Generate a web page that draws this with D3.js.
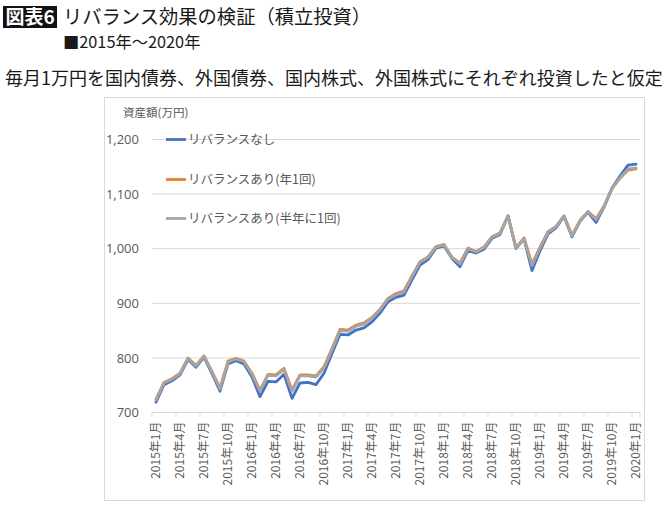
<!DOCTYPE html>
<html><head><meta charset="utf-8">
<script src="https://cdn.jsdelivr.net/npm/d3@7"></script>
<style>body{margin:0;background:#fff}svg{display:block}</style>
</head><body>
<script>
const categories = [
"2015年1月","2015年2月","2015年3月","2015年4月","2015年5月","2015年6月","2015年7月","2015年8月","2015年9月","2015年10月","2015年11月","2015年12月",
"2016年1月","2016年2月","2016年3月","2016年4月","2016年5月","2016年6月","2016年7月","2016年8月","2016年9月","2016年10月","2016年11月","2016年12月",
"2017年1月","2017年2月","2017年3月","2017年4月","2017年5月","2017年6月","2017年7月","2017年8月","2017年9月","2017年10月","2017年11月","2017年12月",
"2018年1月","2018年2月","2018年3月","2018年4月","2018年5月","2018年6月","2018年7月","2018年8月","2018年9月","2018年10月","2018年11月","2018年12月",
"2019年1月","2019年2月","2019年3月","2019年4月","2019年5月","2019年6月","2019年7月","2019年8月","2019年9月","2019年10月","2019年11月","2019年12月",
"2020年1月"];
const seriesNames = ["リバランスなし","リバランスあり(年1回)","リバランスあり(半年に1回)"];
const seriesColors = ["#4472C4","#ED7D31","#A5A5A5"];
const noRebalance = [719,751,758,769,797,783,801,771,739,789,795,789,
  765,729,757,756,770,726,754,755,751,772,808,843,
  842,851,855,866,882,903,911,915,943,970,980,1001,
  1005,982,967,997,992,999,1019,1026,1060,1000,1018,960,
  996,1027,1038,1059,1022,1050,1067,1048,1076,1111,1133,1153,
  1155];
const yearly = [724,755,762,772,800,786,804,775,745,794,799,794,
  772,741,770,769,781,741,769,769,767,784,817,852,
  851,860,864,874,889,909,918,923,950,976,985,1004,
  1008,984,974,1001,995,1003,1022,1029,1060,1002,1020,972,
  1003,1031,1041,1060,1025,1052,1068,1055,1078,1110,1129,1144,
  1146];
const halfYearly = [723,754,761,771,799,785,803,774,743,792,798,793,
  770,739,768,767,779,739,767,767,765,782,815,850,
  849,858,862,873,888,908,916,921,949,975,984,1003,
  1007,984,972,1000,994,1002,1021,1028,1060,1001,1019,969,
  1001,1030,1040,1060,1024,1051,1068,1053,1077,1110,1130,1146,
  1148];
const yTicks = [700,800,900,1000,1100,1200];
const titleTag = "図表6";
const titleText = "リバランス効果の検証（積立投資）";
const periodText = "■2015年〜2020年";
const subtitleText = "毎月1万円を国内債券、外国債券、国内株式、外国株式にそれぞれ投資したと仮定";
const yAxisTitle = "資産額(万円)";

const W = 670, H = 505;
const JP = "'Noto Sans CJK JP','Noto Sans',sans-serif";
const svg = d3.select("body").append("svg").attr("width", W).attr("height", H);
svg.append("rect").attr("width", W).attr("height", H).attr("fill", "#fff");

// header
svg.append("rect").attr("x", 3).attr("y", 6).attr("width", 54).attr("height", 22).attr("fill", "#111");
svg.append("text").attr("x", 30).attr("y", 24).attr("text-anchor", "middle")
  .attr("font-family", JP).attr("font-size", 19).attr("font-weight", 700).attr("fill", "#fff").text(titleTag);
svg.append("text").attr("x", 63).attr("y", 24)
  .attr("font-family", JP).attr("font-size", 19.3).attr("font-weight", 400).attr("fill", "#1a1a1a").text(titleText);
svg.append("text").attr("x", 63).attr("y", 48)
  .attr("font-family", JP).attr("font-size", 16.3).attr("fill", "#1a1a1a").text(periodText);
svg.append("text").attr("x", 5).attr("y", 85)
  .attr("font-family", JP).attr("font-size", 18).attr("fill", "#1a1a1a").text(subtitleText);

// chart area border
svg.append("rect").attr("x", 104.5).attr("y", 97.5).attr("width", 540).attr("height", 403)
  .attr("fill", "none").attr("stroke", "#d9d9d9");

const x = d3.scaleBand().domain(categories).range([152, 640]);
const y = d3.scaleLinear().domain([700, 1200]).range([412.5, 139.5]);
const cx = d => x(d) + x.bandwidth() / 2;

// gridlines
svg.append("g").selectAll("line").data(yTicks.slice(1)).join("line")
  .attr("x1", 152).attr("x2", 640).attr("y1", d => y(d)).attr("y2", d => y(d))
  .attr("stroke", "#d9d9d9").attr("stroke-width", 1);

// y axis labels
const yAxis = d3.axisLeft(y).tickValues(yTicks).tickFormat(d3.format(",")).tickSize(0).tickPadding(13);
const gy = svg.append("g").attr("transform", "translate(152,0)").call(yAxis);
gy.select(".domain").remove();
gy.selectAll("text").attr("font-family", "'Open Sans','Noto Sans',sans-serif").attr("font-size", 13).attr("fill", "#595959");

// x axis
const xAxis = d3.axisBottom(x).tickValues(categories.filter((d, i) => i % 3 === 0)).tickSize(0).tickPadding(0);
const gx = svg.append("g").attr("transform", "translate(0,412.5)").call(xAxis);
gx.select(".domain").attr("stroke", "#d9d9d9").attr("d", "M152,0H640");
gx.selectAll("text").attr("font-family", JP).attr("font-size", 12).attr("fill", "#595959")
  .attr("transform", "rotate(-90)").attr("text-anchor", "end").attr("x", -9).attr("y", 0).attr("dy", "0.35em");
// tick marks at category boundaries every 3 months
svg.append("g").selectAll("line").data(categories.filter((d, i) => i % 3 === 0)).join("line")
  .attr("x1", d => x(d)).attr("x2", d => x(d)).attr("y1", 412.5).attr("y2", 417.5)
  .attr("stroke", "#d9d9d9");
svg.append("line").attr("x1", 640).attr("x2", 640).attr("y1", 412.5).attr("y2", 417.5).attr("stroke", "#d9d9d9");

// y title
svg.append("text").attr("x", 123).attr("y", 117).attr("font-family", JP).attr("font-size", 11.5)
  .attr("fill", "#595959").text(yAxisTitle);

// lines
const allSeries = [noRebalance, yearly, halfYearly];
const line = d3.line().x((d, i) => cx(categories[i])).y(d => y(d));
allSeries.forEach((s, k) => {
  svg.append("path").datum(s).attr("d", line).attr("fill", "none")
    .attr("stroke", seriesColors[k]).attr("stroke-width", 2.8).attr("stroke-linejoin", "round").attr("stroke-linecap", "round");
});

// legend
const legendY = [139.5, 179.5, 218.5];
seriesNames.forEach((n, k) => {
  svg.append("line").attr("x1", 166).attr("x2", 186).attr("y1", legendY[k]).attr("y2", legendY[k])
    .attr("stroke", seriesColors[k]).attr("stroke-width", 2.8);
  svg.append("text").attr("x", 188).attr("y", legendY[k]).attr("dy", "0.36em")
    .attr("font-family", JP).attr("font-size", 12.5).attr("fill", "#595959").text(n);
});
</script>
</body></html>
